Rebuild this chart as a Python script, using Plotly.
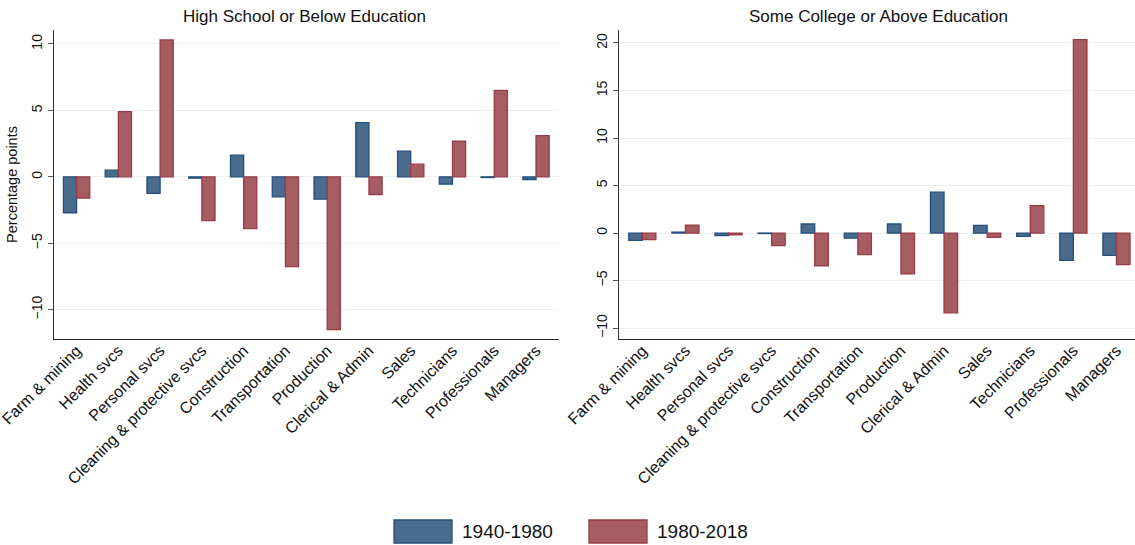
import plotly.graph_objects as go

categories = ["Farm & mining", "Health svcs", "Personal svcs", "Cleaning & protective svcs",
              "Construction", "Transportation", "Production", "Clerical & Admin",
              "Sales", "Technicians", "Professionals", "Managers"]

# High School or Below Education
hs_1940_1980 = [-2.7, 0.5, -1.25, -0.1, 1.63, -1.5, -1.68, 4.08, 1.93, -0.55, -0.05, -0.2]
hs_1980_2018 = [-1.6, 4.9, 10.3, -3.3, -3.9, -6.75, -11.5, -1.33, 0.95, 2.68, 6.5, 3.1]

# Some College or Above Education
sc_1940_1980 = [-0.77, 0.1, -0.28, -0.05, 0.95, -0.53, 0.95, 4.3, 0.8, -0.35, -2.88, -2.35]
sc_1980_2018 = [-0.7, 0.84, -0.18, -1.33, -3.44, -2.28, -4.3, -8.4, -0.45, 2.88, 20.35, -3.33]

series_names = ["1940-1980", "1980-2018"]

BLUE_FILL, BLUE_LINE = "#496B8C", "#23507A"
RED_FILL, RED_LINE = "#A55D62", "#983C47"
FONT = "Liberation Sans, Arial, sans-serif"

fig = go.Figure()

panels = [("x", "y", hs_1940_1980, hs_1980_2018), ("x2", "y2", sc_1940_1980, sc_1980_2018)]
for xa, ya, v1, v2 in panels:
    fig.add_trace(go.Bar(x=categories, y=v1, name=series_names[0], xaxis=xa, yaxis=ya,
                         marker=dict(color=BLUE_FILL, line=dict(color=BLUE_LINE, width=1.3)),
                         showlegend=False, offsetgroup="a"))
    fig.add_trace(go.Bar(x=categories, y=v2, name=series_names[1], xaxis=xa, yaxis=ya,
                         marker=dict(color=RED_FILL, line=dict(color=RED_LINE, width=1.3)),
                         showlegend=False, offsetgroup="b"))

grid = "#E9F1F2"
xcommon = dict(type="category", tickangle=-45, showline=True, linecolor="#222", linewidth=1.2,
               ticks="", showgrid=False, automargin=False, ticklabelstandoff=-5,
               tickfont=dict(size=16, color="#111", family=FONT))
ycommon = dict(showline=True, linecolor="#333", linewidth=1.2, ticks="outside", ticklen=5,
               tickcolor="#555", gridcolor=grid, gridwidth=1, zeroline=False, tickangle=-90,
               automargin=False, tickfont=dict(size=14, color="#111", family=FONT))

fig.update_layout(
    width=1135, height=545,
    margin=dict(l=0, r=0, t=0, b=0, autoexpand=False),
    paper_bgcolor="white", plot_bgcolor="white",
    barmode="group", bargap=0.37, bargroupgap=0,
    font=dict(family=FONT, color="#111"),
    xaxis=dict(domain=[0.0476, 0.4925], anchor="y", range=[-0.54, 11.55], **xcommon),
    yaxis=dict(domain=[0.378, 0.945], anchor="x", range=[-12.2, 11.05],
               tickvals=[-10, -5, 0, 5, 10],
               title=dict(text="Percentage points", font=dict(size=14.5, family=FONT), standoff=8),
               **ycommon),
    xaxis2=dict(domain=[0.5454, 1.0], anchor="y2", range=[-0.54, 11.43], **xcommon),
    yaxis2=dict(domain=[0.378, 0.945], anchor="x2", range=[-11.15, 21.37],
                tickvals=[-10, -5, 0, 5, 10, 15, 20], **ycommon),
)

fig.add_annotation(text="High School or Below Education", x=0.2687, y=1 - 16 / 545,
                   xref="paper", yref="paper", xanchor="center", yanchor="middle",
                   showarrow=False, font=dict(size=17, family=FONT))
fig.add_annotation(text="Some College or Above Education", x=0.7744, y=1 - 16 / 545,
                   xref="paper", yref="paper", xanchor="center", yanchor="middle",
                   showarrow=False, font=dict(size=17, family=FONT))

# legend drawn as swatches + labels at the bottom
legend_items = [(394, BLUE_FILL, BLUE_LINE, series_names[0]), (589, RED_FILL, RED_LINE, series_names[1])]
for x0, fill, line, label in legend_items:
    fig.add_shape(type="rect", xref="paper", yref="paper",
                  x0=x0 / 1135, x1=(x0 + 58) / 1135, y0=1 - 543 / 545, y1=1 - 520 / 545,
                  fillcolor=fill, line=dict(color=line, width=1.3))
    fig.add_annotation(text=label, x=(x0 + 66) / 1135, y=1 - 531.5 / 545, xref="paper", yref="paper",
                       xanchor="left", yanchor="middle", showarrow=False,
                       font=dict(size=19, family=FONT, color="#111"))

# drop the default 8px body margin so the figure sits at the page origin
fig.write_html("out.html", config={"displayModeBar": False},
               post_script="document.body.style.margin='0';")
